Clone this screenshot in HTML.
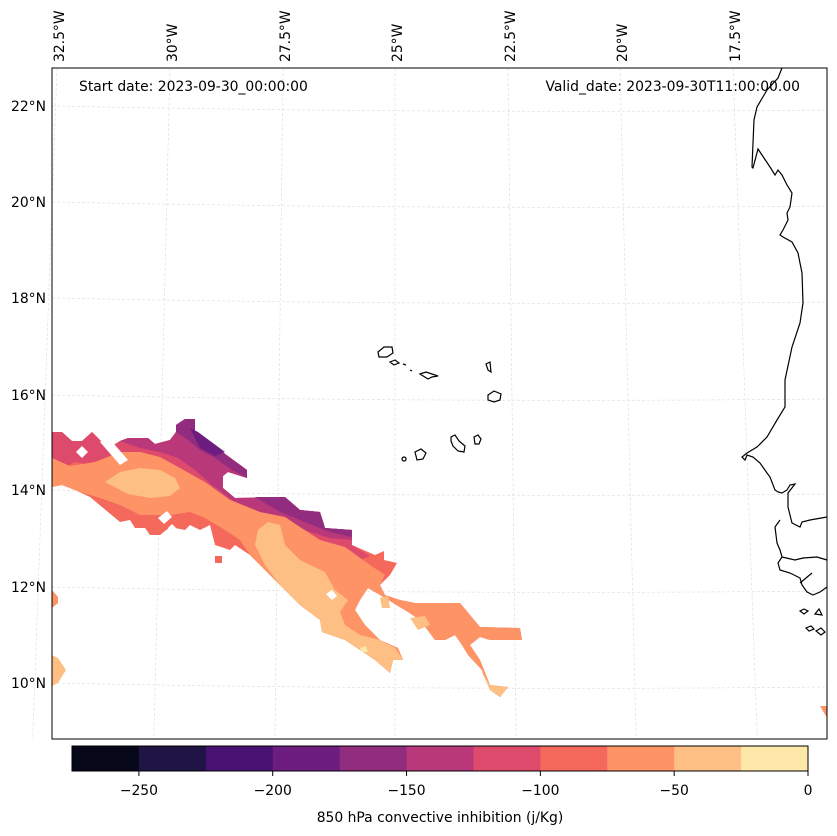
<!DOCTYPE html>
<html><head><meta charset="utf-8"><style>
html,body{margin:0;padding:0;background:#fff;}
svg{display:block;font-family:"DejaVu Sans","Liberation Sans",sans-serif;}
</style></head><body>
<svg id="fig" width="837" height="836" viewBox="0 0 837 836" xmlns="http://www.w3.org/2000/svg">
<g id="grid"></g>
<g id="fields">
<path fill="#f5695c" d="M52,432 L62,432 72,441 82,441 92,432 102,442 112,446 120,441 128,438 148,438 155,444 170,440 176,432 176,425 185,419 195,419 195,432 247,470 247,478 228,472 223,476 223,488 235,498 285,497 300,510 320,512 325,528 352,530 352,545 375,555 384,551 384,560 397,563 390,575 380,585 385,595 400,600 415,603 428,603 460,603 480,627 520,628 522,640 490,640 480,637 470,645 480,660 490,685 508,687 500,697 490,690 482,670 468,655 462,645 455,635 445,640 435,640 420,620 408,612 380,595 368,588 360,600 355,610 365,625 380,640 398,648 403,660 393,660 390,673 375,660 345,640 322,632 320,620 300,605 270,575 250,555 235,545 230,550 215,545 210,525 200,530 190,525 185,530 170,527 160,535 150,535 145,528 135,528 130,520 120,522 108,512 90,497 75,490 62,485 52,487 Z"/>
<path fill="#dd4a6b" d="M52,432 L62,432 72,441 82,441 92,432 102,442 112,446 120,441 128,438 148,438 155,444 170,440 176,432 176,425 185,419 195,419 195,432 247,470 247,478 228,472 223,476 223,488 235,498 285,497 300,510 320,512 325,528 352,530 352,545 370,556 360,560 335,552 315,545 295,535 270,525 245,515 225,505 205,490 185,475 165,462 150,458 130,458 115,462 95,466 75,462 60,470 52,472 Z"/>
<path fill="#b8387a" d="M120,441 L128,438 148,438 155,444 170,440 176,432 176,425 185,419 195,419 195,432 247,470 247,478 228,472 223,476 223,488 235,498 285,497 300,510 320,512 325,528 352,530 352,540 330,538 305,530 280,520 255,510 232,500 212,485 195,470 178,458 160,452 140,448 Z"/>
<path fill="#922c7f" d="M176,425 L185,419 195,419 195,432 247,470 247,478 232,470 215,458 200,450 188,440 176,432 Z M255,497 L285,497 300,510 320,512 325,528 352,530 352,537 330,532 305,522 280,512 Z"/>
<path fill="#6d1d80" d="M190,428 L198,432 225,452 215,456 200,448 Z"/>
<path fill="#fe9366" d="M52,458 L70,466 95,462 120,452 140,452 160,457 180,468 205,482 230,500 260,512 285,517 300,527 320,540 345,547 370,565 385,575 380,585 385,595 400,600 415,603 428,603 460,603 480,627 520,628 522,640 490,640 480,637 470,645 480,660 490,685 508,687 500,697 490,690 482,670 468,655 462,645 455,635 445,640 435,640 420,620 408,612 380,595 368,588 360,600 355,610 365,625 380,640 398,648 403,660 393,660 390,673 375,660 345,640 322,632 320,620 300,605 270,575 250,555 240,540 225,530 205,518 190,512 170,515 155,515 140,515 120,505 100,498 80,492 62,485 52,487 Z"/>
<path fill="#fdbf84" d="M105,482 L120,472 140,468 160,470 175,478 180,488 170,496 150,498 128,494 Z"/>
<path fill="#fdbf84" d="M258,530 L268,522 280,525 285,545 300,560 325,572 335,590 348,600 340,612 345,625 360,635 380,640 395,648 403,660 393,660 390,673 375,660 345,640 322,632 320,620 300,605 280,585 265,565 255,545 Z"/>
<path fill="#fdbf84" d="M480,668 L490,685 508,687 500,697 490,690 Z M410,618 L425,616 430,625 418,630 Z M380,598 L388,596 390,608 382,608 Z"/>
<path fill="#fde7a9" d="M360,648 L366,646 368,652 361,652 Z"/>
<path fill="#fe9366" d="M52,590 L58,597 58,603 52,608 Z"/>
<path fill="#fdbf84" d="M52,655 L58,658 66,670 58,683 52,686 Z"/>
<rect x="215" y="556" width="7" height="7" fill="#f5695c"/>
<path fill="#fe9366" d="M820,706 L827,706 827,718 Z"/>
<path fill="#fff" d="M76,452 L82,446 88,452 82,458 Z M100,442 L108,437 128,460 120,465 Z M158,518 L167,511 172,517 164,524 Z M168,528 L172,524 176,528 172,532 Z M326,594 L332,590 337,596 332,600 Z"/>
</g>
<g fill="none" stroke="#000" stroke-width="1.2">
<path d="M782,68 L778,78 767,90 757,107 754,120 753,143 752,167 753,168 758,149 770,167 775,175 778,170 782,175 787,185 792,193 790,207 787,213 788,220 783,230 780,235 783,237 792,242 798,253 802,273 803,303 800,323 792,347 785,380 785,407 777,420 767,437 757,447 747,453 742,457 745,460 747,455 753,457 760,463 767,473 770,477 775,490 778,492 782,493 787,490 790,485 795,484 788,493 788,507 792,523 800,527 802,522 810,520 827,517 M780,520 L775,527 777,543 780,550 782,557 778,563 780,570 790,573 800,578 802,585 807,592 813,595 820,592 827,587 M782,557 L795,560 803,558 817,557 827,560 M800,583 L812,573"/>
<path d="M800,611 l4,-2 4,2 -4,3 z M815,614 l4,-5 3,6 z M806,628 l5,-2 3,3 -5,2 z M816,631 l5,-3 4,4 -4,3 z"/>
<path d="M378,352 l6,-5 8,0 1,6 -6,4 -8,0 z M390,362 l5,-2 4,3 -5,2 z M403,364 l3,1 M410,370 l2,1 M420,374 l6,-2 6,2 6,2 -6,1 -4,2 z M486,364 l4,-2 1,10 -3,-2 z M488,395 l6,-4 7,3 -1,6 -6,2 -6,-2 z M451,437 l4,-2 4,6 6,5 -1,6 -6,-1 -5,-5 -2,-5 z M474,437 l4,-2 3,4 -2,5 -4,0 z M415,452 l6,-3 5,4 -3,6 -6,1 z M404,457 a2,2 0 1,0 0.1,0 z"/>
</g>
<rect x="52" y="68" width="775" height="671" fill="none" stroke="#000" stroke-width="1"/>
<g id="lonlabels" font-size="13.9" fill="#000"></g>
<g id="latlabels" font-size="13.9" fill="#000" text-anchor="end"></g>
<text x="79" y="91" font-size="13.9">Start date: 2023-09-30_00:00:00</text>
<text x="800" y="91" font-size="13.9" text-anchor="end">Valid_date: 2023-09-30T11:00:00.00</text>
<g id="cbar"></g>
<text x="440" y="822" font-size="13.9" text-anchor="middle">850 hPa convective inhibition (j/Kg)</text>
</svg>
<script>
const levels = [-275,-250,-225,-200,-175,-150,-125,-100,-75,-50,-25,0];
const binColors = ["#07071a","#1f1445","#481273","#6d1d80","#922c7f","#b8387a","#dd4a6b","#f5695c","#fe9366","#fdbf84","#fde7a9"];
const cbTicks = [-250,-200,-150,-100,-50,0];
const cbTickLabels = ["\u2212250","\u2212200","\u2212150","\u2212100","\u221250","0"];
const lonTicks = ["32.5°W","30°W","27.5°W","25°W","22.5°W","20°W","17.5°W"];
const lonTopX = [57,170,283,395,508,620,733];
const latTicks = ["22°N","20°N","18°N","16°N","14°N","12°N","10°N"];
const latLeftY = [106,202,298,395,490,587,683];
const NS="http://www.w3.org/2000/svg";
function mk(t,a,p){const e=document.createElementNS(NS,t);for(const k in a)e.setAttribute(k,a[k]);p.appendChild(e);return e;}
const x0=72,x1=808,yT=746,yB=771;
const cx=v=>x0+(v-levels[0])/(levels[levels.length-1]-levels[0])*(x1-x0);
const cb=document.getElementById('cbar');
binColors.forEach((c,i)=>{const r=mk('rect',{x:cx(levels[i]),y:yT,width:cx(levels[i+1])-cx(levels[i])+0.5,height:yB-yT,fill:c},cb);

});
const fr=mk('rect',{x:x0,y:yT,width:x1-x0,height:yB-yT,fill:'none',stroke:'#000','stroke-width':1},cb);


cbTicks.forEach((v,i)=>{const l=mk('line',{x1:cx(v),x2:cx(v),y1:yB,y2:yB+5,stroke:'#000'},cb);


const t=mk('text',{x:cx(v),y:yB+24,'font-size':13.9,'text-anchor':'middle'},cb);t.textContent=cbTickLabels[i];

});
const g=document.getElementById('grid');
lonTopX.forEach(x=>{const xb=x+(x-395)*0.000107*671;const l=mk('line',{x1:x,y1:68,x2:xb,y2:739,stroke:'#e0e0e0','stroke-width':0.7,'stroke-dasharray':'3,2'},g);

});
latLeftY.forEach(y=>{const p=mk('path',{d:`M52,${y} Q440,${y+8} 827,${y+4}`,fill:'none',stroke:'#e0e0e0','stroke-width':0.7,'stroke-dasharray':'3,2'},g);

});
const ll=document.getElementById('lonlabels');
lonTicks.forEach((s,i)=>{const x=lonTopX[i]+7;const t=mk('text',{x:0,y:0,transform:`translate(${x},62) rotate(-90)`},ll);t.textContent=s;

});
const la=document.getElementById('latlabels');
latTicks.forEach((s,i)=>{const t=mk('text',{x:46,y:latLeftY[i]+5},la);t.textContent=s;

});
</script>
</body></html>
